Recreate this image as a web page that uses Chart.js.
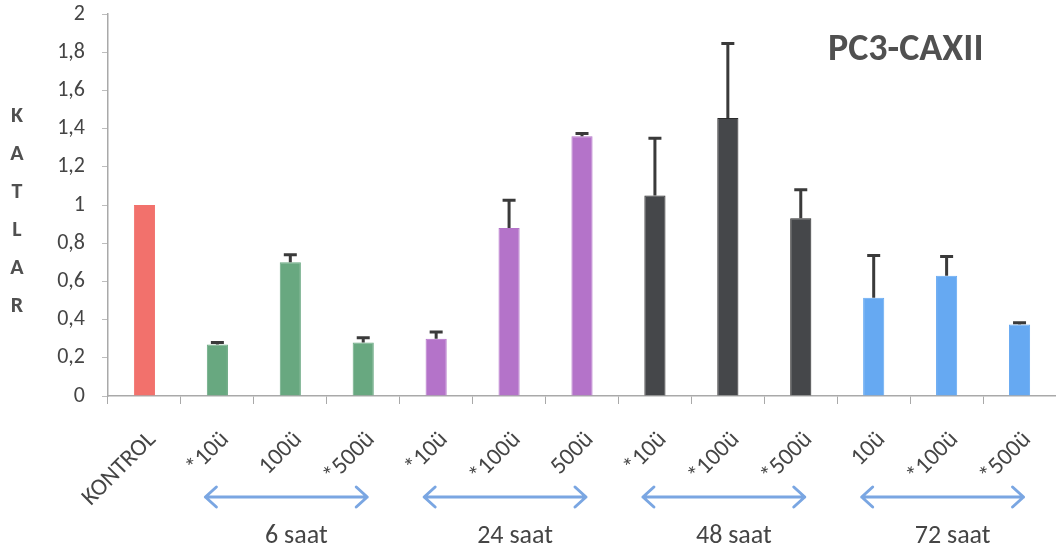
<!DOCTYPE html>
<html>
<head>
<meta charset="utf-8">
<script src="https://cdn.jsdelivr.net/npm/chart.js@4"></script>
<style>
  html, body { margin: 0; padding: 0; background: #fff; }
  #wrap { width: 1056px; height: 552px; position: relative; }
</style>
</head>
<body>
<div id="wrap"><canvas id="c"></canvas></div>
<script>
/* ===== PC3-CAXII bar chart ===== */

const labels = ['KONTROL', '*10ü', '100ü', '*500ü', '*10ü', '*100ü', '500ü', '*10ü', '*100ü', '*500ü', '10ü', '*100ü', '*500ü'];
const values = [1.0, 0.27, 0.70, 0.28, 0.30, 0.88, 1.36, 1.05, 1.455, 0.93, 0.515, 0.63, 0.375];
const errors = [0, 0.01, 0.04, 0.025, 0.035, 0.145, 0.015, 0.30, 0.39, 0.15, 0.22, 0.10, 0.008];
const barColors = ['#f2716c', '#68a880', '#68a880', '#68a880', '#b473c9', '#b473c9', '#b473c9',
                   '#45474a', '#45474a', '#45474a', '#66a9f2', '#66a9f2', '#66a9f2'];

const groupLabels = ['6 saat', '24 saat', '48 saat', '72 saat'];
const groupFirst  = [1, 4, 7, 10];
const groupLast   = [3, 6, 9, 12];

const chartTitle = 'PC3-CAXII';
const yTitle = 'KATLAR';

const FONT = 'Carlito, Lato, sans-serif';
const TEXT = '#454545';

function fmt(v) {
  return String(Number(v.toFixed(1))).replace('.', ',');
}

// error bars (upper half only)
const errorBars = {
  id: 'errorBars',
  afterDatasetsDraw(chart) {
    const ctx = chart.ctx;
    const y = chart.scales.y;
    const meta = chart.getDatasetMeta(0);
    ctx.save();
    ctx.strokeStyle = '#3a3a3a';
    ctx.lineWidth = 3;
    meta.data.forEach((bar, i) => {
      if (!errors[i]) return;
      const top = y.getPixelForValue(values[i] + errors[i]);
      ctx.beginPath();
      ctx.moveTo(bar.x, bar.y);
      ctx.lineTo(bar.x, top);
      ctx.moveTo(bar.x - 6.5, top);
      ctx.lineTo(bar.x + 6.5, top);
      ctx.stroke();
    });
    ctx.restore();
  }
};

// title, vertical axis letters, time-group arrows
const decorations = {
  id: 'decorations',
  afterDraw(chart) {
    const ctx = chart.ctx;
    const x = chart.scales.x;
    ctx.save();

    ctx.fillStyle = '#505050';
    ctx.font = 'bold 38px ' + FONT;
    ctx.textAlign = 'left';
    ctx.textBaseline = 'alphabetic';
    ctx.fillText(chartTitle, 828, 60);

    ctx.font = 'bold 22px ' + FONT;
    ctx.textAlign = 'center';
    ctx.textBaseline = 'middle';
    yTitle.split('').forEach((ch, i) => ctx.fillText(ch, 17, 116 + i * 38));

    const ay = 497;
    ctx.strokeStyle = '#7aa6e2';
    ctx.lineWidth = 3;
    ctx.lineCap = 'round';
    ctx.lineJoin = 'round';
    groupLabels.forEach((g, i) => {
      const x1 = x.getPixelForValue(groupFirst[i]) - 12;
      const x2 = x.getPixelForValue(groupLast[i]) + 4;
      ctx.beginPath();
      ctx.moveTo(x1, ay);
      ctx.lineTo(x2, ay);
      ctx.moveTo(x1 + 11, ay - 10);
      ctx.lineTo(x1, ay);
      ctx.lineTo(x1 + 11, ay + 10);
      ctx.moveTo(x2 - 11, ay - 10);
      ctx.lineTo(x2, ay);
      ctx.lineTo(x2 - 11, ay + 10);
      ctx.stroke();

      ctx.fillStyle = TEXT;
      ctx.font = '26px ' + FONT;
      ctx.textAlign = 'center';
      ctx.textBaseline = 'alphabetic';
      ctx.fillText(g, (x1 + x2) / 2 + 10, 543);
    });
    ctx.restore();
  }
};

new Chart(document.getElementById('c'), {
  type: 'bar',
  data: {
    labels: labels,
    datasets: [{
      data: values,
      backgroundColor: barColors,
      borderColor: barColors.map(c => c === '#45474a' ? '#2b2b2b' : c),
      borderWidth: 1,
      categoryPercentage: 1,
      barPercentage: 0.29
    }]
  },
  options: {
    responsive: true,
    maintainAspectRatio: false,
    animation: false,
    layout: { padding: { top: 14, right: 0, left: 0, bottom: 0 } },
    plugins: {
      legend: { display: false },
      tooltip: { enabled: false }
    },
    scales: {
      x: {
        afterFit: s => { s.height = 156; s.paddingLeft = 0; s.paddingRight = 0; },
        border: { color: '#a9a9a9', width: 1.5 },
        grid: { offset: true, drawOnChartArea: false, tickLength: 8, color: '#a9a9a9' },
        ticks: {
          autoSkip: false,
          minRotation: 45,
          maxRotation: 45,
          padding: 22,
          labelOffset: 8,
          color: TEXT,
          font: { family: FONT, size: 24 }
        }
      },
      y: {
        min: 0,
        max: 2,
        afterFit: s => { s.width = 108; s.paddingTop = 0; s.paddingBottom = 0; },
        border: { color: '#a9a9a9', width: 1.5 },
        grid: { drawOnChartArea: false, tickLength: 6, color: '#bdbdbd' },
        ticks: {
          stepSize: 0.2,
          padding: 17,
          color: TEXT,
          font: { family: FONT, size: 22 },
          callback: v => fmt(v)
        }
      }
    }
  },
  plugins: [errorBars, decorations]
});
</script>
</body>
</html>
